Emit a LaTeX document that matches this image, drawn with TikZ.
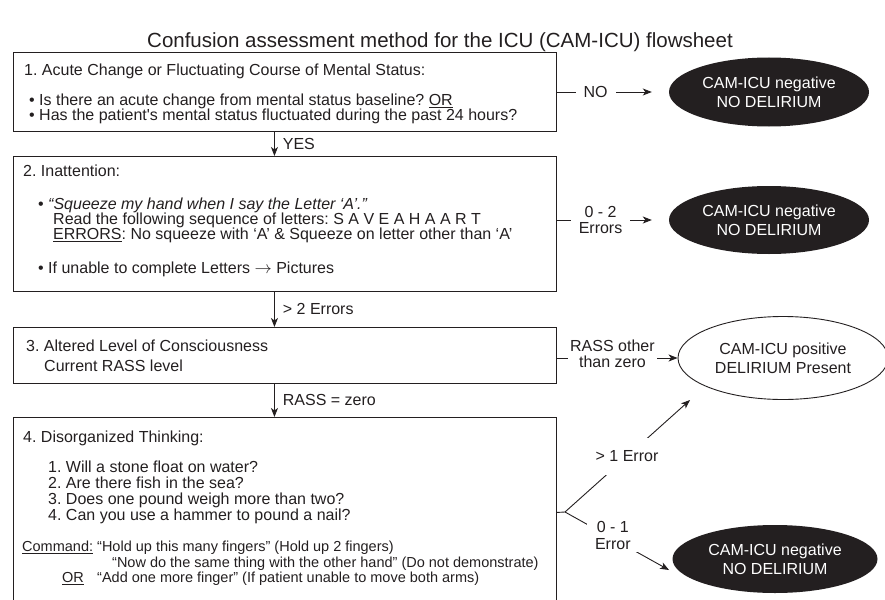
\documentclass[tikz,border=0pt]{standalone}
\usepackage{fontspec}
\setmainfont{Liberation Sans}
\usetikzlibrary{arrows.meta,shapes.geometric}
\definecolor{ink}{RGB}{35,31,32}
\frenchspacing
\begin{document}
\begin{tikzpicture}[x=1pt,y=-1pt,
  txt/.style={anchor=base west, inner sep=0pt, text=ink, font=\fontsize{16}{16}\selectfont},
  cmd/.style={anchor=base west, inner sep=0pt, text=ink, font=\fontsize{14.5}{16}\selectfont},
  box/.style={draw=ink, line width=0.9pt, rectangle, anchor=north west, inner sep=0pt, minimum width=543pt},
  arr/.style={draw=ink, line width=0.9pt, -{Stealth[length=9pt,width=7pt,inset=2.5pt]}},
  conn/.style={draw=ink, line width=0.9pt},
  lbl/.style={fill=white, text=ink, inner xsep=8pt, inner ysep=2pt, align=center, font=\fontsize{16}{16.5}\selectfont},
  vlbl/.style={anchor=west, xshift=8pt, inner sep=0pt, text=ink, font=\fontsize{16}{16}\selectfont},
  ellneg/.style={ellipse, fill=ink, text=white, inner sep=0pt, align=center, font=\fontsize{16}{19}\selectfont},
  ellposi/.style={ellipse, draw=ink, line width=0.9pt, fill=white, text=ink, inner sep=0pt, align=center, font=\fontsize{16}{19}\selectfont}
]
\useasboundingbox (0,0) rectangle (885,599);
\clip (0,0) rectangle (885,599);

% title
\node[anchor=base, inner sep=0pt, text=ink, font=\fontsize{20.5}{22}\selectfont] (title) at (440,47.5)
  {Confusion assessment method for the ICU (CAM-ICU) flowsheet};

% boxes
\node[box, minimum height=79pt] (b1) at (13,52) {};
\node[box, minimum height=135pt] (b2) at (13,156) {};
\node[box, minimum height=56pt] (b3) at (13,327) {};
\node[box, minimum height=190pt] (b4) at (13,417) {};

% box 1 text
\node[txt] (t1a) at (24,76) {1. Acute Change or Fluctuating Course of Mental Status:};
\node[txt] (t1b) at (29,105.5) {• Is there an acute change from mental status baseline? \underline{OR}};
\node[txt] (t1c) at (29,120.5) {• Has the patient\textquotesingle s mental status fluctuated during the past 24 hours?};

% box 2 text
\node[txt] (t2a) at (23,176) {2. Inattention:};
\node[txt] (t2b) at (38,209.5) {• \textit{“Squeeze my hand when I say the Letter ‘A’.”}};
\node[txt] (t2c) at (53,224.5) {Read the following sequence of letters: S A V E A H A A R T};
\node[txt] (t2d) at (53,239.5) {\underline{ERRORS}: No squeeze with ‘A’ \& Squeeze on letter other than ‘A’};
\node[txt] (t2e) at (38,273.5) {• If unable to complete Letters $\rightarrow$ Pictures};

% box 3 text
\node[txt] (t3a) at (26,351) {3. Altered Level of Consciousness};
\node[txt] (t3b) at (44,371) {Current RASS level};

% box 4 text
\node[txt] (t4a) at (23,442.5) {4. Disorganized Thinking:};
\node[txt] (t4b) at (48,472.5) {1. Will a stone float on water?};
\node[txt] (t4c) at (48,488.5) {2. Are there fish in the sea?};
\node[txt] (t4d) at (48,504.5) {3. Does one pound weigh more than two?};
\node[txt] (t4e) at (48,520.5) {4. Can you use a hammer to pound a nail?};
\node[cmd] (t4f) at (22,551.5) {\underline{Command:}};
\node[cmd] (t4g) at (97,551.5) {“Hold up this many fingers” (Hold up 2 fingers)};
\node[cmd] (t4h) at (112,567) {“Now do the same thing with the other hand” (Do not demonstrate)};
\node[cmd] (t4i) at (62,582.5) {\underline{OR}};
\node[cmd] (t4j) at (97,582.5) {“Add one more finger” (If patient unable to move both arms)};

% outcome ellipses
\node[ellneg, minimum width=200pt, minimum height=69pt] (e1) at (769,92) {CAM-ICU negative\\NO DELIRIUM};
\node[ellneg, minimum width=200pt, minimum height=68pt] (e2) at (769,220) {CAM-ICU negative\\NO DELIRIUM};
\node[ellposi, minimum width=210pt, minimum height=83pt] (e3) at (783,358) {CAM-ICU positive\\DELIRIUM Present};
\node[ellneg, minimum width=205pt, minimum height=68pt] (e4) at (775,559) {CAM-ICU negative\\NO DELIRIUM};

% vertical flow
\draw[arr] ([xshift=-10.5pt]b1.south) -- node[vlbl]{YES} ([xshift=-10.5pt]b2.north);
\draw[arr] ([xshift=-10.5pt]b2.south) -- node[vlbl]{> 2 Errors} ([xshift=-10.5pt]b3.north);
\draw[arr] ([xshift=-10.5pt]b3.south) -- node[vlbl]{RASS = zero} ([xshift=-10.5pt]b4.north);

% horizontal exits
\draw[arr, shorten >=17pt] (b1.east |- e1.west) -- node[lbl, pos=0.345]{NO} (e1.west);
\draw[arr, shorten >=17pt] (b2.east |- e2.west) -- node[lbl, pos=0.39]{0 - 2\\Errors} (e2.west);
\draw[arr] (b3.east |- e3.west) -- node[lbl, pos=0.46, yshift=4pt, inner xsep=2pt]{RASS other\\than zero} (e3.west);

% branch from box 4
\coordinate (j) at (565,512);
\coordinate (tipA) at (690,400);
\coordinate (tipB) at (669,570);
\draw[conn] (b4.east) -- (j);
\draw[arr] (j) -- node[lbl, pos=0.496, inner ysep=13pt]{> 1 Error} (tipA);
\draw[arr] (j) -- node[lbl, pos=0.46, yshift=3pt]{0 - 1\\Error} (tipB);
\end{tikzpicture}
\end{document}
